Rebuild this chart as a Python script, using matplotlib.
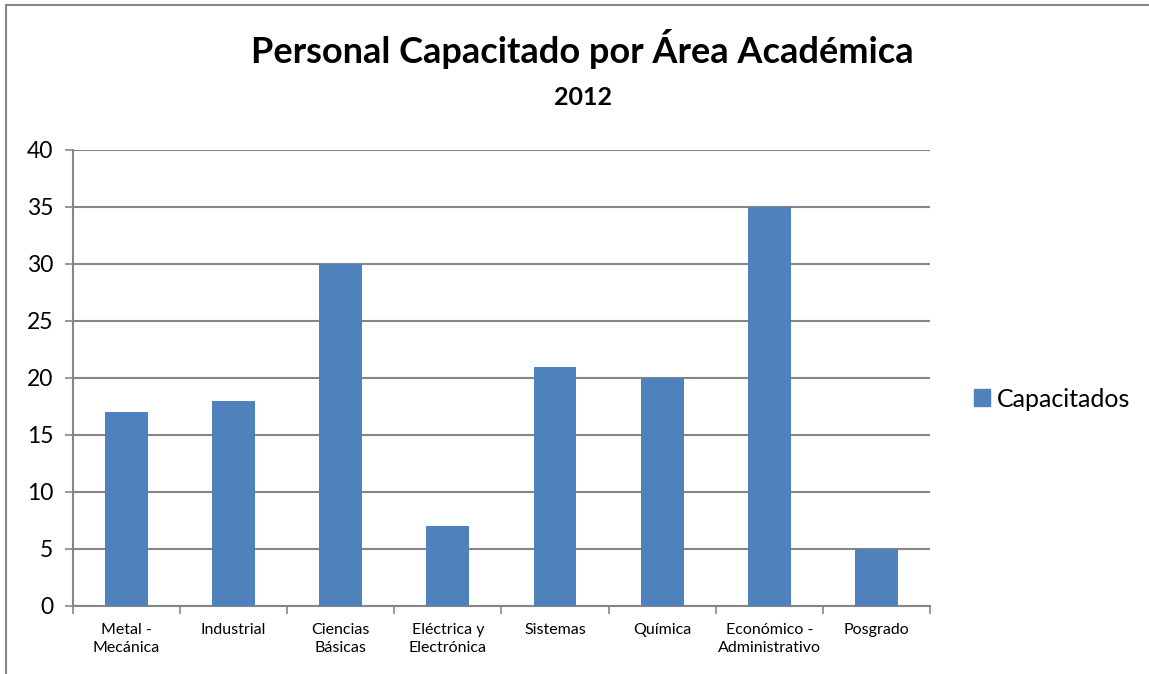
import numpy as np
import matplotlib
matplotlib.use("Agg")
from matplotlib import pyplot as plt
from matplotlib.lines import Line2D

categories = ["Metal -\nMecánica", "Industrial", "Ciencias\nBásicas",
              "Eléctrica y\nElectrónica", "Sistemas", "Química",
              "Económico -\nAdministrativo", "Posgrado"]
capacitados = [17, 18, 30, 7, 21, 20, 35, 5]
yticks = [0, 5, 10, 15, 20, 25, 30, 35, 40]

plt.rcParams['font.family'] = ['Lato', 'DejaVu Sans']
barColor = '#4F81BD'
gridColor = '#868686'

fig = plt.figure(figsize=(11.49, 6.74), dpi=100)
ax = fig.add_axes([0.0635, 0.1009, 0.7459, 0.6766])

x = np.arange(len(categories))
ax.bar(x, capacitados, width=0.4, color=barColor, label='Capacitados', zorder=3)

ax.set_xlim(-0.5, len(categories) - 0.5)
ax.set_ylim(0, 40)
ax.set_yticks(yticks)
ax.set_yticklabels([str(t) for t in yticks], fontsize=16.5)
ax.yaxis.grid(True, color=gridColor, linewidth=1.5, zorder=0)
ax.tick_params(axis='y', length=6, width=1.2, color=gridColor, pad=8)

# category labels centred, tick marks on the boundaries
ax.set_xticks(x)
ax.set_xticklabels(categories, fontsize=11.5, linespacing=1.4, va='top')
ax.tick_params(axis='x', which='major', length=0, pad=12)
ax.set_xticks(np.arange(len(categories) + 1) - 0.5, minor=True)
ax.tick_params(axis='x', which='minor', length=6, width=1.2, color=gridColor)

for s in ['top', 'right']:
    ax.spines[s].set_visible(False)
for s in ['left', 'bottom']:
    ax.spines[s].set_color(gridColor)
    ax.spines[s].set_linewidth(1.5)

fig.text(0.507, 0.927, 'Personal Capacitado por Área Académica',
         ha='center', va='center', fontsize=26, fontweight='bold')
fig.text(0.507, 0.856, '2012', ha='center', va='center',
         fontsize=18, fontweight='bold')

fig.legend(handles=[plt.Rectangle((0, 0), 1, 1, color=barColor)],
           labels=['Capacitados'], loc='center left',
           bbox_to_anchor=(0.828, 0.408), frameon=False, fontsize=18,
           handlelength=0.65, handleheight=0.65, handletextpad=0.28)

# outer chart border (only top and left visible in the crop)
fig.add_artist(Line2D([0.005, 0.005], [0, 0.993], transform=fig.transFigure,
                      color=gridColor, linewidth=1.5))
fig.add_artist(Line2D([0.005, 1], [0.993, 0.993], transform=fig.transFigure,
                      color=gridColor, linewidth=1.5))

fig.savefig('out.png', dpi=100)
